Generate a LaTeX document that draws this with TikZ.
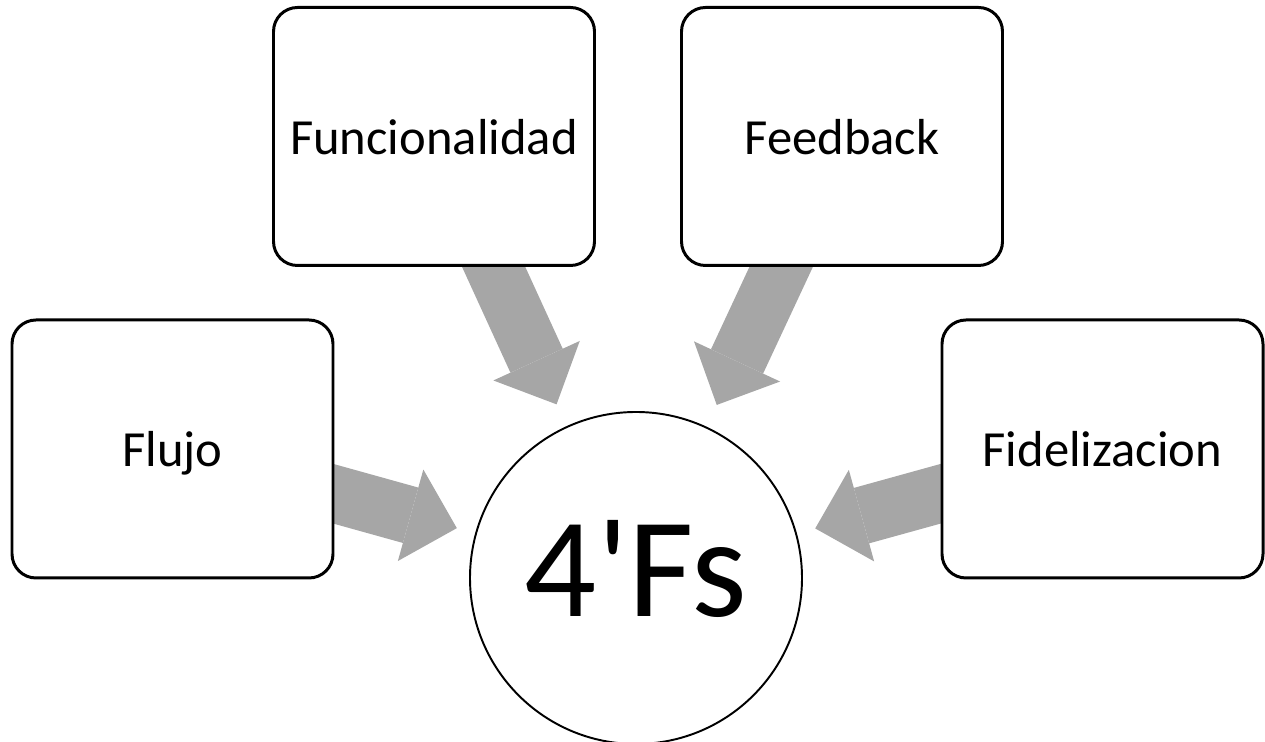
\documentclass[tikz,border=0pt]{standalone}
\usepackage{fontspec}
\setmainfont{Carlito}[Ligatures=TeXOff]
\usepackage{tikz}
\usetikzlibrary{arrows.meta,backgrounds}
\definecolor{arrowgray}{HTML}{A6A6A6}

\begin{document}
\begin{tikzpicture}[
    fbox/.style={draw=black, line width=1.7pt, fill=white, rounded corners=0.48cm,
      minimum width=6.42cm, minimum height=5.16cm, inner sep=0pt, text depth=0pt,
      font=\fontsize{28.8}{34}\selectfont},
    hub/.style={draw=black, line width=1.1pt, fill=white, circle,
      minimum size=6.64cm, inner sep=0pt},
    feed/.style={arrowgray, line width=1.15cm,
      -{Triangle[length=0.96cm, width=1.9cm, line width=0pt]}}
  ]
  \useasboundingbox (0,0) rectangle (25.3,14.84);
  % centre circle
  \node[hub] (hub) at (12.72,3.28) {};
  \node[font=\fontsize{81}{90}\selectfont] (hubtext) at ([yshift=0.18cm]hub.center) {4'Fs};
  % the four boxes
  \node[fbox] (flujo) at (3.45,5.86) {Flujo};
  \node[fbox] (funcional) at (8.68,12.11) {Funcionalidad};
  \node[fbox] (feedback) at (16.84,12.11) {Feedback};
  \node[fbox] (fideliz) at (22.05,5.86) {Fidelizacion};
  % wide arrows, under the boxes
  \begin{scope}[on background layer]
    \draw[feed, shorten >=0.38cm] (flujo.center) -- (hub);
    \draw[feed, shorten >=0.48cm] (funcional.center) -- (hub);
    \draw[feed, shorten >=0.48cm] (feedback.center) -- (hub);
    \draw[feed, shorten >=0.38cm] (fideliz.center) -- (hub);
  \end{scope}
\end{tikzpicture}
\end{document}
